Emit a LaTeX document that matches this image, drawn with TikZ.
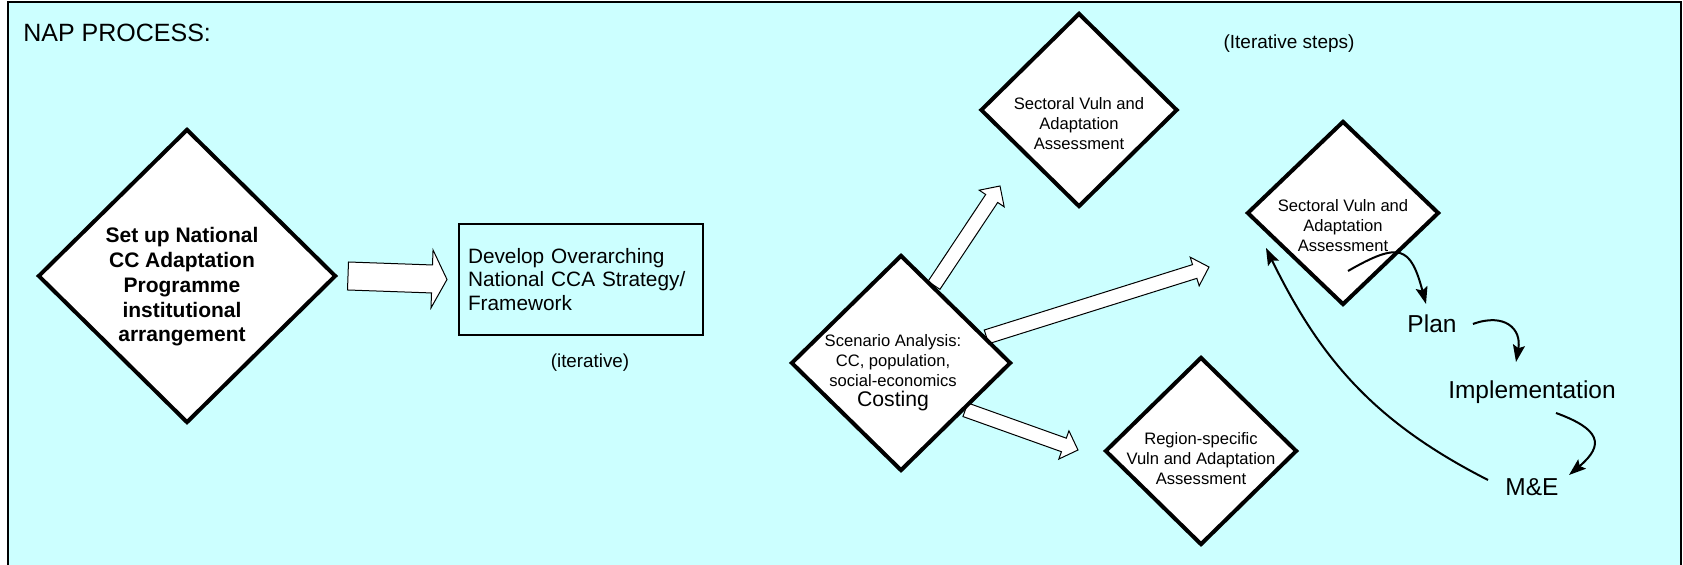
\documentclass[tikz,border=0pt]{standalone}
\usepackage{fontspec}
\setmainfont{Liberation Sans}
\usetikzlibrary{shapes.geometric,arrows.meta,calc,backgrounds}
\definecolor{napcyan}{RGB}{204,255,255}

\begin{document}
\begin{tikzpicture}[x=0.5pt, y=-0.5pt,
    diam/.style={diamond, draw, fill=white, line width=2pt, inner sep=0pt},
    dtext/.style={align=center, inner sep=0pt, font=\fontsize{8.3}{10}\selectfont},
    steptext/.style={inner sep=0pt, font=\fontsize{12.25}{14}\selectfont},
    note/.style={inner sep=0pt, font=\fontsize{9.4}{11}\selectfont},
    blockarrow/.style={draw, fill=white, line width=0.5pt},
    block/.style n args={3}{to path={
      let \p1=(\tikztostart), \p2=(\tikztotarget), \n1={atan2(\y2-\y1,\x2-\x1)} in
      ($(\p1)+({\n1+90}:#1)$) -- ($(\p2)+({\n1+180}:#3)+({\n1+90}:#1)$)
      -- ($(\p2)+({\n1+180}:#3)+({\n1+90}:#2)$) -- (\p2)
      -- ($(\p2)+({\n1+180}:#3)+({\n1-90}:#2)$) -- ($(\p2)+({\n1+180}:#3)+({\n1-90}:#1)$)
      -- ($(\p1)+({\n1-90}:#1)$) -- cycle}},
    fat/.style={block={7pt}{14.5pt}{7.5pt}},
    slim/.style={block={3.6pt}{7.5pt}{7.5pt}},
    cyc/.style={-{Stealth[length=8.5pt,width=6pt,inset=1.5pt]}, line width=1pt}]

    % page and frame
    \useasboundingbox (0,0) rectangle (1683,565);
    \begin{scope}[on background layer]
      \draw[fill=napcyan, line width=0.8pt] (8,2) rectangle (1681,568);
    \end{scope}

    % title
    \node[anchor=west, inner sep=0pt, font=\fontsize{12.5}{15}\selectfont] (title) at (23,33) {NAP PROCESS:};

    % set up diamond and strategy box
    \node[diam, minimum width=149pt, minimum height=147pt] (setup) at (187,276) {};
    \node[align=center, inner sep=0pt, font=\bfseries\fontsize{10.5}{12.4}\selectfont] (setuptext)
      at ([xshift=-2.5pt,yshift=-5.5pt]setup.center) {Set up National\\CC Adaptation\\Programme\\institutional\\arrangement};

    \node[draw, line width=1pt, minimum width=122pt, minimum height=55.5pt, text width=113pt,
      inner xsep=4.5pt, align=left, font=\fontsize{10.4}{11.75}\selectfont] (strategy)
      at (581,279.5) {Develop Overarching\\National CCA Strategy/\\Framework};
    \node[note] (iter) at (590,363) {(iterative)};

    \draw[blockarrow] ([xshift=5pt]setup.east) to[fat] ([xshift=-5.5pt]strategy.west);

    % scenario analysis
    \node[diam, minimum width=110pt, minimum height=108pt] (scen) at (901,363) {};
    \node[dtext] (scentext) at ([xshift=-4pt,yshift=-5pt]scen.center)
      {Scenario Analysis:\\CC, population,\\social-economics\\{\fontsize{10.6}{12}\selectfont Costing}};

    % assessments
    \node[diam, minimum width=98.5pt, minimum height=97pt] (sect1) at (1079,110) {};
    \node[dtext] (sect1text) at ([yshift=-7pt]sect1.center) {Sectoral Vuln and\\Adaptation\\Assessment};
    \node[diam, minimum width=96pt, minimum height=92pt] (sect2) at (1343,213) {};
    \node[dtext] (sect2text) at ([yshift=-6.5pt]sect2.center) {Sectoral Vuln and\\Adaptation\\Assessment};
    \node[diam, minimum width=96pt, minimum height=94pt] (region) at (1201,451) {};
    \node[dtext] (regiontext) at ([yshift=-4pt]region.center) {Region-specific\\Vuln and Adaptation\\Assessment};

    \node[note, font=\fontsize{9.5}{11}\selectfont] (itersteps) at (1289,44) {(Iterative steps)};

    % block arrows out of the scenario analysis
    \coordinate (uptip) at (1000,186);
    \coordinate (midtip) at (1209,267);
    \coordinate (lowtip) at (1078,450);
    \begin{scope}[on background layer]
      \foreach \a/\t in {67/uptip, 17/midtip, 324/lowtip}
        \draw[blockarrow] (scen.\a) to[slim] (\t);
    \end{scope}

    % iterative steps
    \node[steptext] (plan) at (1432,324) {Plan};
    \node[steptext] (impl) at (1532,392) {Implementation};
    \node[steptext] (me) at (1532,487) {M\&E};

    \draw[cyc] ([xshift=2.5pt,yshift=-29pt]sect2.center) to[out=30, in=105, looseness=1.8] ([xshift=-3pt,yshift=10pt]plan.center);
    \draw[cyc] ([xshift=8pt]plan.east) to[out=20, in=80, looseness=1.5] ([xshift=-8pt,yshift=15pt]impl.center);
    \draw[cyc] ([xshift=12pt,yshift=-10.5pt]impl.center) to[out=-20, in=40, looseness=1.9] ([xshift=18.5pt,yshift=6pt]me.center);
    \draw[cyc] ([xshift=-22pt,yshift=3.5pt]me.center) to[out=153, in=-64] ([xshift=-38.5pt,yshift=-17.5pt]sect2.center);
\end{tikzpicture}
\end{document}
